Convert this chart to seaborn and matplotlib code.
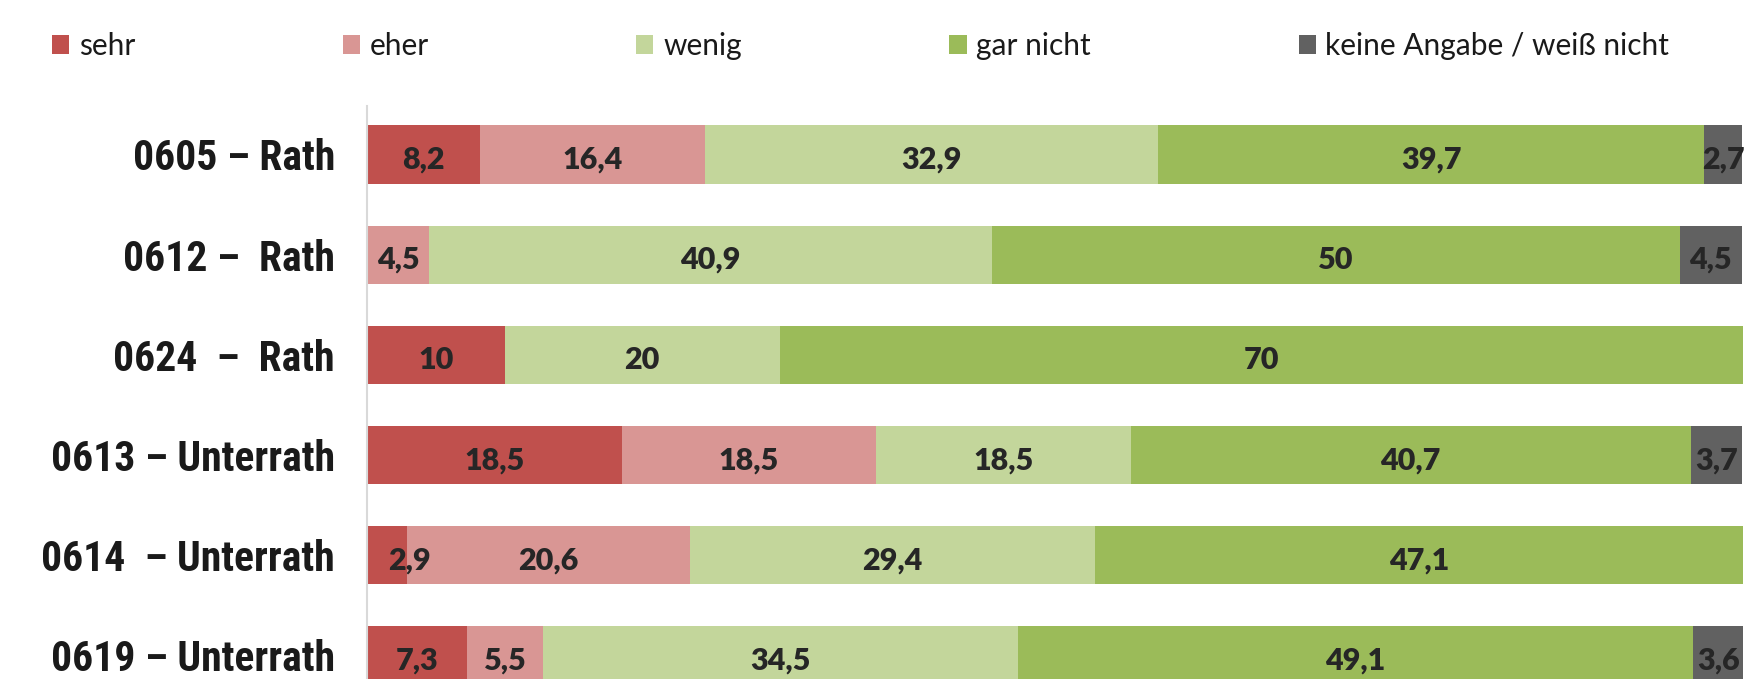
import matplotlib
matplotlib.use('Agg')
import matplotlib.pyplot as plt
from matplotlib.patches import Patch
from matplotlib import font_manager
import numpy as np
import seaborn as sns

# data
districts = ['0605 – Rath', '0612 –  Rath', '0624  –  Rath',
             '0613 – Unterrath', '0614  – Unterrath', '0619 – Unterrath']
answers = ['sehr', 'eher', 'wenig', 'gar nicht', 'keine Angabe / weiß nicht']
sehr = [8.2, 0, 10, 18.5, 2.9, 7.3]
eher = [16.4, 4.5, 0, 18.5, 20.6, 5.5]
wenig = [32.9, 40.9, 20, 18.5, 29.4, 34.5]
gar_nicht = [39.7, 50, 70, 40.7, 47.1, 49.1]
keine_angabe = [2.7, 4.5, 0, 3.7, 0, 3.6]

colors = ['#C0504D', '#D99694', '#C3D69B', '#9BBB59', '#616161']
# labels that the original shifted sideways (row, answer) -> shift in %
label_shift = {(4, 0): 1.6}

sns.set_style('white')
plt.rcParams['font.family'] = ['Lato', 'DejaVu Sans']

# condensed bold face for the row labels, whichever is installed
installed = {f.name for f in font_manager.fontManager.ttflist}
label_font = 'Liberation Sans'
label_size = 27
for name, size in [('Liberation Sans Narrow', 30), ('Roboto Condensed', 30),
                   ('DejaVu Sans Condensed', 27)]:
    if name in installed:
        label_font, label_size = name, size
        break

values = np.array([sehr, eher, wenig, gar_nicht, keine_angabe])
cum = np.cumsum(values, axis=0)

fig = plt.figure(figsize=(17.49, 6.79), dpi=100)
ax = fig.add_axes([367 / 1749, 0, (1743 - 367) / 1749, 1 - 106 / 679])

# stacked bars: draw cumulative totals from the outermost segment inwards
for k in range(len(answers) - 1, -1, -1):
    sns.barplot(x=cum[k], y=districts, color=colors[k], orient='h',
                width=0.58, saturation=1, ax=ax, linewidth=0)

# value labels in the middle of each segment
for k in range(len(answers)):
    for i in range(len(districts)):
        v = values[k, i]
        if v <= 0:
            continue
        start = cum[k, i] - v
        ax.text(start + v / 2 + label_shift.get((i, k), 0), i + 0.05,
                f'{v:g}'.replace('.', ','),
                ha='center', va='center', fontsize=22, fontweight='heavy',
                color='#262626')

ax.set_xlim(0, 100)
ax.set_ylim(5.235, -0.484)
ax.set_xticks([])
ax.set_xlabel('')
ax.set_ylabel('')
for s in ['top', 'right', 'bottom']:
    ax.spines[s].set_visible(False)
ax.spines['left'].set_color('#D9D9D9')
ax.spines['left'].set_linewidth(1.5)
ax.tick_params(axis='y', length=0, pad=23)
for lab in ax.get_yticklabels():
    lab.set_family([label_font, 'DejaVu Sans'])
    lab.set_fontweight('bold')
    lab.set_fontsize(label_size)
    lab.set_color('#1a1a1a')

handles = [Patch(facecolor=c, edgecolor='none') for c in colors]
fig.legend(handles, answers, loc='center left', ncol=5,
           bbox_to_anchor=(52 / 1749, 1 - 46 / 679), frameon=False,
           borderpad=0, borderaxespad=0, fontsize=21.5,
           handlelength=0.57, handleheight=0.57, handletextpad=0.33,
           columnspacing=6.95, labelcolor='#1a1a1a')

fig.savefig('out.png', dpi=100)
